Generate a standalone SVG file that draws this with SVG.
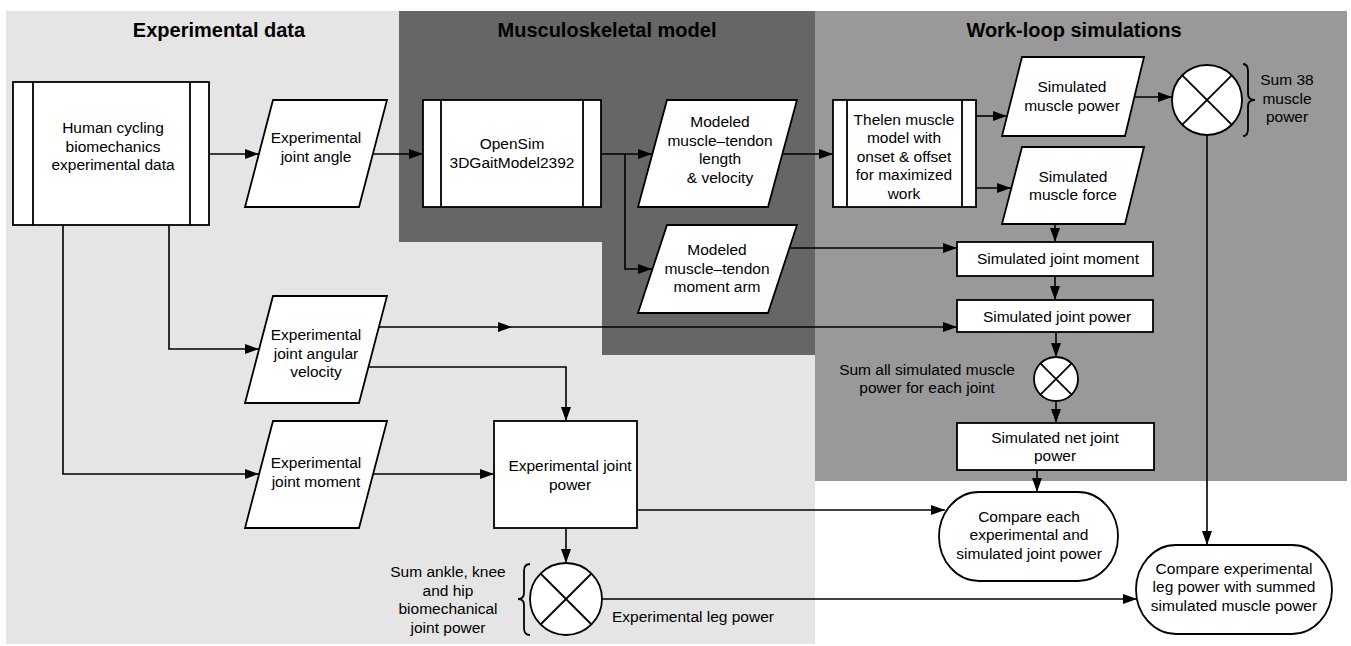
<svg xmlns="http://www.w3.org/2000/svg" width="1351" height="646" viewBox="0 0 1351 646">
<style>
.t{font-family:"Liberation Sans",Arial,sans-serif;font-size:15.5px;fill:#000;text-anchor:middle}
.h{font-family:"Liberation Sans",Arial,sans-serif;font-size:20px;font-weight:bold;fill:#000;text-anchor:middle}
.n{fill:#fff;stroke:#000;stroke-width:1.8}
.ln{fill:none;stroke:#000;stroke-width:1.8}
.c{fill:none;stroke:#000;stroke-width:1.6}
.a{marker-end:url(#arr)}
</style>
<defs>
<marker id="arr" markerUnits="userSpaceOnUse" markerWidth="14" markerHeight="10" refX="14" refY="5" orient="auto">
<path d="M0,0 L14,5 L0,10 z" fill="#000"/>
</marker>
</defs>
<g id="backgrounds">
<rect x="6" y="11" width="809" height="633" fill="#e5e5e5"/>
<polygon points="399,11 815,11 815,355 602,355 602,242 399,242" fill="#666"/>
<rect x="815" y="11" width="532" height="470" fill="#999"/>
<text class="h" x="219" y="37">Experimental data</text>
<text class="h" x="607" y="37">Musculoskeletal model</text>
<text class="h" x="1074" y="37">Work-loop simulations</text>
</g>
<g id="human">
<rect class="n" x="13" y="82" width="196" height="143"/>
<path class="ln" d="M33,82 V225 M190,82 V225"/>
<text class="t" x="113"><tspan x="113" y="133">Human cycling</tspan><tspan x="113" y="151.5">biomechanics</tspan><tspan x="113" y="170">experimental data</tspan></text>
</g>
<g id="exp-angle">
<polygon class="n" points="273,100 387,100 359,207 245,207"/>
<text class="t"><tspan x="316" y="143">Experimental</tspan><tspan x="316" y="161.5">joint angle</tspan></text>
</g>
<g id="opensim">
<rect class="n" x="423" y="100" width="178" height="107"/>
<path class="ln" d="M441,100 V207 M583,100 V207"/>
<text class="t"><tspan x="512" y="149">OpenSim</tspan><tspan x="512" y="167.5">3DGaitModel2392</tspan></text>
</g>
<g id="mt-length">
<polygon class="n" points="667,100 797,100 768,207 638,207"/>
<text class="t"><tspan x="720" y="127">Modeled</tspan><tspan x="720" y="145.5">muscle–tendon</tspan><tspan x="720" y="164">length</tspan><tspan x="720" y="182.5">&amp; velocity</tspan></text>
</g>
<g id="mt-arm">
<polygon class="n" points="667,225 797,225 768,313 638,313"/>
<text class="t"><tspan x="717" y="255">Modeled</tspan><tspan x="717" y="273.5">muscle–tendon</tspan><tspan x="717" y="292">moment arm</tspan></text>
</g>
<g id="thelen">
<rect class="n" x="833" y="100" width="143" height="107"/>
<path class="ln" d="M847,100 V207 M962,100 V207"/>
<text class="t"><tspan x="904" y="124.5">Thelen muscle</tspan><tspan x="904" y="143">model with</tspan><tspan x="904" y="161.5">onset &amp; offset</tspan><tspan x="904" y="180">for maximized</tspan><tspan x="904" y="198.5">work</tspan></text>
</g>
<g id="sim-power">
<polygon class="n" points="1022,57 1144,57 1125,136 1002,136"/>
<text class="t"><tspan x="1072" y="92">Simulated</tspan><tspan x="1072" y="110.5">muscle power</tspan></text>
</g>
<g id="sim-force">
<polygon class="n" points="1022,147 1144,147 1125,224 1002,224"/>
<text class="t"><tspan x="1073" y="181.5">Simulated</tspan><tspan x="1073" y="200">muscle force</tspan></text>
</g>
<g id="sum38">
<circle class="n" cx="1207" cy="100" r="35"/>
<path class="ln" d="M1182.3,75.3 L1231.7,124.7 M1231.7,75.3 L1182.3,124.7"/>
<path class="ln" stroke-width="1.5" d="M1243,64 Q1248,64 1248,71 L1248,94 Q1248,100 1255,100 Q1248,100 1248,106 L1248,129 Q1248,136 1243,136"/>
<text class="t"><tspan x="1287" y="85">Sum 38</tspan><tspan x="1287" y="103.5">muscle</tspan><tspan x="1287" y="122">power</tspan></text>
</g>
<g id="sim-moment">
<rect class="n" x="957" y="242" width="196" height="34"/>
<text class="t" x="1058" y="264">Simulated joint moment</text>
</g>
<g id="sim-jpower">
<rect class="n" x="957" y="300" width="196" height="32"/>
<text class="t" x="1057" y="321.5">Simulated joint power</text>
</g>
<g id="sum-joint">
<circle class="n" cx="1056" cy="379" r="22"/>
<path class="ln" d="M1040.4,363.4 L1071.6,394.6 M1071.6,363.4 L1040.4,394.6"/>
<text class="t"><tspan x="927" y="374.5">Sum all simulated muscle</tspan><tspan x="927" y="393">power for each joint</tspan></text>
</g>
<g id="sim-net">
<rect class="n" x="957" y="423" width="197" height="47"/>
<text class="t"><tspan x="1055" y="442.5">Simulated net joint</tspan><tspan x="1055" y="461">power</tspan></text>
</g>
<g id="compare-joint">
<rect class="n" x="939" y="492" width="179" height="89" rx="40" ry="44.5"/>
<text class="t"><tspan x="1029" y="521.5">Compare each</tspan><tspan x="1029" y="540">experimental and</tspan><tspan x="1029" y="558.5">simulated joint power</tspan></text>
</g>
<g id="compare-leg">
<rect class="n" x="1136" y="545" width="196" height="89" rx="40" ry="44.5"/>
<text class="t"><tspan x="1234" y="573.5">Compare experimental</tspan><tspan x="1234" y="592">leg power with summed</tspan><tspan x="1234" y="610.5">simulated muscle power</tspan></text>
</g>
<g id="exp-angvel">
<polygon class="n" points="273,296 387,296 359,403 245,403"/>
<text class="t"><tspan x="316" y="340">Experimental</tspan><tspan x="316" y="358.5">joint angular</tspan><tspan x="316" y="377">velocity</tspan></text>
</g>
<g id="exp-moment">
<polygon class="n" points="273,421 387,421 359,528 245,528"/>
<text class="t"><tspan x="316" y="468">Experimental</tspan><tspan x="316" y="486.5">joint moment</tspan></text>
</g>
<g id="exp-jpower">
<rect class="n" x="494" y="421" width="143" height="107"/>
<text class="t"><tspan x="570" y="471">Experimental joint</tspan><tspan x="570" y="489.5">power</tspan></text>
</g>
<g id="sum-leg">
<circle class="n" cx="566" cy="599" r="36"/>
<path class="ln" d="M540.5,573.5 L591.5,624.5 M591.5,573.5 L540.5,624.5"/>
<path class="ln" stroke-width="1.5" d="M530,564 Q524,564 524,571 L524,593 Q524,599 518,599 Q524,599 524,605 L524,628 Q524,635 530,635"/>
<text class="t"><tspan x="448" y="577">Sum ankle, knee</tspan><tspan x="448" y="595.5">and hip</tspan><tspan x="448" y="614">biomechanical</tspan><tspan x="448" y="632.5">joint power</tspan></text>
<text class="t" x="612" y="622" style="text-anchor:start">Experimental leg power</text>
</g>
<g id="connectors">
<path class="c a" d="M209,154 H259"/>
<path class="c a" d="M373,154 H423"/>
<path class="c a" d="M601,154 H652"/>
<path class="c a" d="M625,154 V269 H652"/>
<path class="c a" d="M782,154 H833"/>
<path class="c a" d="M976,116 H1007"/>
<path class="c a" d="M976,188 H1011"/>
<path class="c a" d="M1134,97 H1172"/>
<path class="c a" d="M1055,224 V242"/>
<path class="c a" d="M789,248 H957"/>
<path class="c a" d="M1055,276 V300"/>
<path class="c a" d="M379,327 H512"/>
<path class="c a" d="M512,327 H957"/>
<path class="c a" d="M1056,332 V357"/>
<path class="c a" d="M1056,401 V423"/>
<path class="c a" d="M1037,470 V492"/>
<path class="c a" d="M1207,135 V545"/>
<path class="c a" d="M169,225 V349 H259"/>
<path class="c a" d="M63,225 V474 H259"/>
<path class="c a" d="M368,367 H566 V421"/>
<path class="c a" d="M373,474 H494"/>
<path class="c a" d="M637,510 H945"/>
<path class="c a" d="M566,528 V563"/>
<path class="c a" d="M602,599 H1137"/>
</g>
</svg>
